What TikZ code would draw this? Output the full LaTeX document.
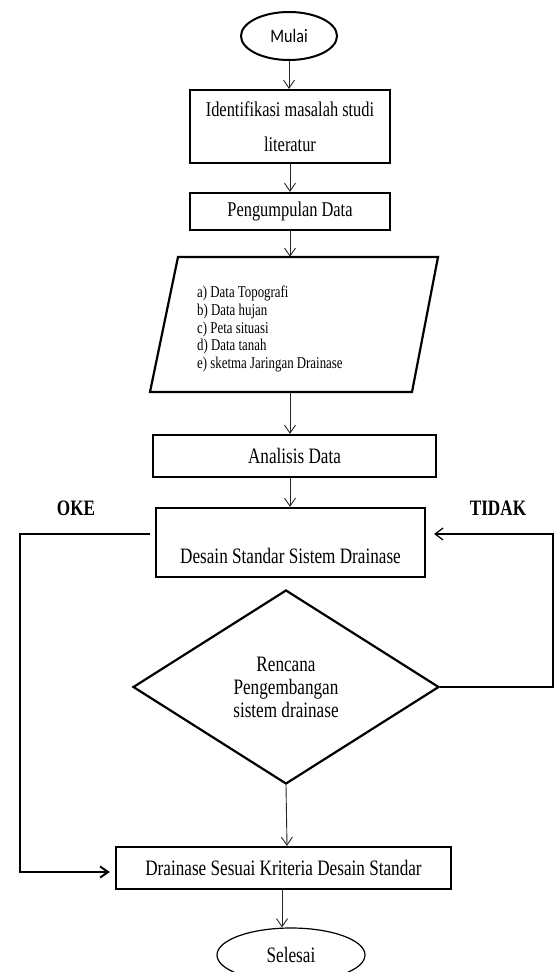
\documentclass[tikz,border=0pt]{standalone}
\usepackage{fontspec}
\usetikzlibrary{shapes.geometric,arrows.meta}
\newfontfamily\tnrfont[FakeStretch=0.78]{Liberation Serif}
\newfontfamily\carlfont[FakeStretch=0.85]{Carlito}
\begin{document}
\begin{tikzpicture}[x=1pt,y=-1pt,
  box/.style={draw,rectangle,line width=2.2pt,inner sep=0pt},
  txt/.style={font=\tnrfont\fontsize{22}{26}\selectfont},
  arr/.style={line width=0.9pt,draw=black!85,-{Straight Barb[length=8pt,width=11pt]}},
  okl/.style={line width=2.4pt,-{Straight Barb[length=8pt,width=11pt,line width=2pt]}},
  tdl/.style={line width=1.8pt,-{Straight Barb[length=8pt,width=12pt,line width=1.2pt]}},
  lbl/.style={font=\tnrfont\bfseries\fontsize{22}{26}\selectfont}]
\useasboundingbox (0,0) rectangle (555,972);

\node[draw,ellipse,line width=2pt,minimum width=96pt,minimum height=48pt,inner sep=0pt,
      font=\carlfont\fontsize{19}{22}\selectfont] (mulai) at (289,36) {Mulai};
\node[box,minimum width=200pt,minimum height=73pt,align=center,
      font=\tnrfont\fontsize{21}{35}\selectfont] (ident) at (290,126.5) {Identifikasi masalah studi\\literatur};
\node[box,txt,minimum width=200pt,minimum height=37pt,font=\tnrfont\fontsize{21}{26}\selectfont] (peng) at (290,211.5) {Pengumpulan Data};

\node[minimum width=288pt,minimum height=135pt,inner sep=0pt] (data) at (294,324.5) {};
\draw[line width=2.2pt,line join=miter] (178,257) -- (438,257) -- (412,392) -- (150,392) -- cycle;
\node[anchor=west,align=left,inner sep=0pt,font=\tnrfont\fontsize{16.5}{17.8}\selectfont] (list) at (197,329)
  {a) Data Topografi\\b) Data hujan\\c) Peta situasi\\d) Data tanah\\e) sketma Jaringan Drainase};

\node[box,txt,minimum width=283pt,minimum height=42pt] (anal) at (294.5,456) {Analisis Data};
\node[box,minimum width=269pt,minimum height=69pt] (desain) at (290.5,542.5) {};
\node[txt] (desaintxt) at (290.5,556) {Desain Standar Sistem Drainase};

\node[draw,diamond,aspect=1.58,line width=2.2pt,minimum width=306pt,minimum height=194pt,inner sep=0pt,
      align=center,font=\tnrfont\fontsize{22}{23}\selectfont] (dec) at (286,687) {Rencana\\Pengembangan\\sistem drainase};

\node[box,txt,minimum width=335pt,minimum height=42pt] (drain) at (283.5,868) {Drainase Sesuai Kriteria Desain Standar};
\node[draw,ellipse,line width=1.2pt,minimum width=148pt,minimum height=54pt,inner sep=0pt,txt] (selesai) at (291,955) {Selesai};

\node[lbl] (oke) at (76,508) {OKE};
\node[lbl] (tidak) at (498,508) {TIDAK};

\draw[arr] (mulai.south) -- (mulai.south |- ident.north);
\draw[arr] (ident.south) -- (peng.north);
\draw[arr] (peng.south) -- (peng.south |- data.north);
\draw[arr] (peng.south |- data.south) -- (peng.south |- anal.north);
\draw[arr] (peng.south |- anal.south) -- (peng.south |- desain.north);
\draw[arr] (dec.south) -- ([xshift=1pt]dec.south |- drain.north);
\draw[arr] ([xshift=-1.5pt]drain.south) -- ([xshift=-1.5pt]drain.south |- selesai.north);

\coordinate (okA) at (150,534);
\coordinate (okB) at (20,872);
\draw[okl] (okA) -| (okB) -- ([xshift=-5pt]okB -| drain.west);

\coordinate (tdA) at (553,534);
\draw[tdl] (dec.east) -| (tdA) -- ([xshift=8pt]tdA -| desain.east);
\end{tikzpicture}
\end{document}
